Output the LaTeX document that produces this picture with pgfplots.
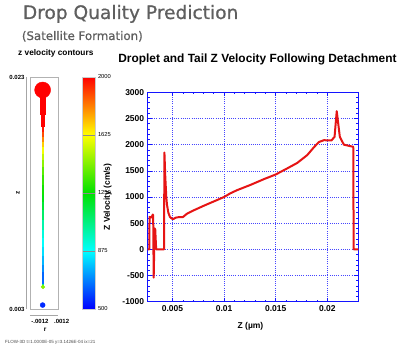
\documentclass[border=0pt]{standalone}
\usepackage{fontspec}
\setmainfont{Liberation Sans}
\newfontfamily\dejavu[FakeBold=0.7]{DejaVu Sans}
\usepackage{pgfplots}
\pgfplotsset{compat=1.18}
\definecolor{titlegray}{RGB}{95,95,95}
\definecolor{gridblue}{RGB}{70,70,255}
\definecolor{frameblue}{RGB}{20,20,255}
\definecolor{curvered}{RGB}{230,20,20}
\begin{document}
\begin{tikzpicture}
\path[use as bounding box, fill=white] (0,0) rectangle (404bp,351bp);
\node[anchor=base west, text=titlegray, font=\dejavu\fontsize{18.6bp}{20bp}\selectfont, inner sep=0] at (22.7bp,332bp) {Drop Quality Prediction};
\node[anchor=base west, text=titlegray, font=\dejavu\fontsize{11.8bp}{13bp}\selectfont, inner sep=0] at (21.7bp,311bp) {(Satellite Formation)};
\node[anchor=base west, font=\bfseries\fontsize{8.3bp}{9bp}\selectfont, inner sep=0] at (18bp,295bp) {z velocity contours};
\node[anchor=base west, font=\fontsize{4.5bp}{5bp}\selectfont, inner sep=0, text=black!70] at (5bp,8bp) {FLOW-3D t=1.0000E-05 y=3.1426E-04 ix=21};

% ---------------- contour panel ----------------
\begin{axis}[
  name=contour, scale only axis, at={(30bp,42bp)}, anchor=south west,
  width=28bp, height=232bp,
  xmin=-0.0023, xmax=0.0008, ymin=0.003, ymax=0.023,
  axis line style={gray!60},
  xtick={-0.0012}, xticklabels={-.0012},
  ytick={0.003,0.023}, yticklabels={0.003,0.023},
  major tick length=0,
  tick label style={font=\bfseries\fontsize{6bp}{7bp}\selectfont},
  xticklabel style={yshift=-7bp},
  yticklabel style={xshift=-2bp},
  scaled ticks=false,
  colormap={zvel}{rgb255=(0,0,255) rgb255=(0,255,255) rgb255=(0,225,0) rgb255=(255,255,0) rgb255=(255,0,0)},
  point meta min=500, point meta max=2000,
  colorbar,
  colorbar style={
    at={(parent axis.north east)}, anchor=north west, xshift=16bp,
    width=13bp,
    ytick={500,875,1250,1625,2000}, yticklabels={500,875,1250,1625,2000},
    yticklabel style={font=\fontsize{5.8bp}{6bp}\selectfont, xshift=-1bp},
    major tick length=0,
    ymajorgrids, major grid style={black!45, line width=0.5pt},
    axis on top,
    axis line style={gray!40},
  },
  clip=false,
]
% thick neck below the head
\addplot[color={rgb,255:red,255;green,0;blue,0}, line width=5.2bp] coordinates {(-0.00087,0.0214) (-0.00087,0.0197)};
\addplot[color={rgb,255:red,255;green,0;blue,0}, line width=3.8bp] coordinates {(-0.00087,0.0198) (-0.00087,0.0187)};
% tail coloured by z velocity
\addplot[mesh, point meta=explicit, line width=2.8bp] coordinates {
(-0.00087,0.0200) [2000]
(-0.00087,0.01869) [2000]
(-0.00087,0.0183) [1930]
(-0.00087,0.01783) [1850]
(-0.00087,0.0174) [1750]
(-0.00087,0.01697) [1650]
(-0.00087,0.0164) [1570]
(-0.00087,0.01584) [1500]
(-0.00087,0.0152) [1420]
(-0.00087,0.01455) [1350]
(-0.00087,0.0137) [1300]
(-0.00087,0.01283) [1250]
(-0.00087,0.0122) [1200]
(-0.00087,0.01153) [1150]
(-0.00087,0.0107) [1050]
(-0.00087,0.00981) [950]
(-0.00087,0.0091) [900]
(-0.00087,0.00834) [860]
(-0.00087,0.0076) [800]
(-0.00087,0.00679) [740]
(-0.00087,0.0062) [680]
(-0.00087,0.0055) [620]
(-0.00087,0.00516) [700]
(-0.00087,0.0049) [1400]
};
% head, tail tip and satellite
\addplot[scatter, only marks, mark=*, point meta=explicit, mark size=8bp,
  scatter/use mapped color={draw=mapped color, fill=mapped color}] coordinates {(-0.00090,0.02188) [2000]};
\addplot[scatter, only marks, mark=*, point meta=explicit, mark size=1.9bp,
  scatter/use mapped color={draw=mapped color, fill=mapped color}] coordinates {(-0.00087,0.0049) [1450]};
\addplot[scatter, only marks, mark=*, point meta=explicit, mark size=2.5bp,
  scatter/use mapped color={draw=mapped color, fill=mapped color}] coordinates {(-0.00090,0.00334) [560]};
% offset axis lines
\draw[gray!70] ([xshift=-4bp]rel axis cs:0,0) -- ([xshift=-4bp]rel axis cs:0,1);
\draw[gray!70] ([yshift=-6bp]rel axis cs:0,0) -- ([yshift=-6bp]rel axis cs:1,0);
\node[font=\bfseries\fontsize{6bp}{7bp}\selectfont, anchor=north, inner sep=0pt] at ([yshift=-10bp]axis cs:0.0012,0.003) {.0012};
\node[font=\bfseries\fontsize{6.5bp}{7bp}\selectfont, rotate=90] at ([xshift=-12bp]rel axis cs:0,0.5) {z};
\node[font=\bfseries\fontsize{6.5bp}{7bp}\selectfont] at ([yshift=-21bp]rel axis cs:0.54,0) {r};
\end{axis}

% ---------------- velocity plot ----------------
\begin{axis}[
  scale only axis, at={(147.7bp,49.3bp)}, anchor=south west,
  width=210.6bp, height=209.4bp,
  xmin=0.0026, xmax=0.0230, ymin=-1000, ymax=3000,
  xtick={0.005,0.01,0.015,0.02}, xticklabels={0.005,0.01,0.015,0.02},
  ytick={-1000,-500,0,500,1000,1500,2000,2500,3000},
  yticklabels={-1000,-500,0,500,1000,1500,2000,2500,3000},
  scaled ticks=false,
  minor x tick num=4, minor y tick num=4,
  tick align=inside, tick pos=both,
  major tick length=4bp, minor tick length=2bp,
  every tick/.style={frameblue, line width=0.6pt},
  axis line style={frameblue, line width=0.9pt},
  xmajorgrids, ymajorgrids,
  major grid style={gridblue, line width=0.6pt, dash pattern=on 1pt off 1.2pt},
  tick label style={font=\bfseries\fontsize{8.5bp}{9bp}\selectfont},
  xlabel={Z (µm)}, ylabel={Z Velocity (cm/s)},
  label style={font=\bfseries\fontsize{8.5bp}{9bp}\selectfont},
  xlabel style={at={(axis description cs:0.488,-0.116)}, anchor=center},
  ylabel style={at={(axis description cs:-0.19,0.5)}, anchor=center},
  title={Droplet and Tail Z Velocity Following Detachment},
  title style={font=\bfseries\fontsize{11.9bp}{13bp}\selectfont, at={(axis description cs:0.521,1.13)}, anchor=center},
]
\addplot[curvered, line width=2bp, line join=round] coordinates {
(0.0026,0) (0.00275,0) (0.00278,620) (0.00300,610) (0.00304,640) (0.00309,665)
(0.00313,650) (0.00318,-540) (0.00327,400) (0.00333,380) (0.00342,0)
(0.00418,0) (0.00422,1850) (0.00430,1400) (0.00440,1000) (0.00447,850)
(0.00460,700) (0.00475,620) (0.00495,585) (0.00510,580) (0.00530,605)
(0.00560,615) (0.00600,615) (0.00640,680) (0.00700,740) (0.00800,830)
(0.00900,915) (0.01000,1000) (0.01060,1070) (0.01125,1130) (0.01254,1230)
(0.01384,1340) (0.01500,1430) (0.01610,1545) (0.01708,1650) (0.01805,1800)
(0.01870,1950) (0.01918,2050) (0.01967,2085) (0.02040,2080) (0.02070,2150)
(0.02091,2640) (0.02121,2150) (0.02160,2000) (0.02225,1970) (0.02251,1960)
(0.02255,0) (0.0230,0)
};
\end{axis}
\end{tikzpicture}
\end{document}
